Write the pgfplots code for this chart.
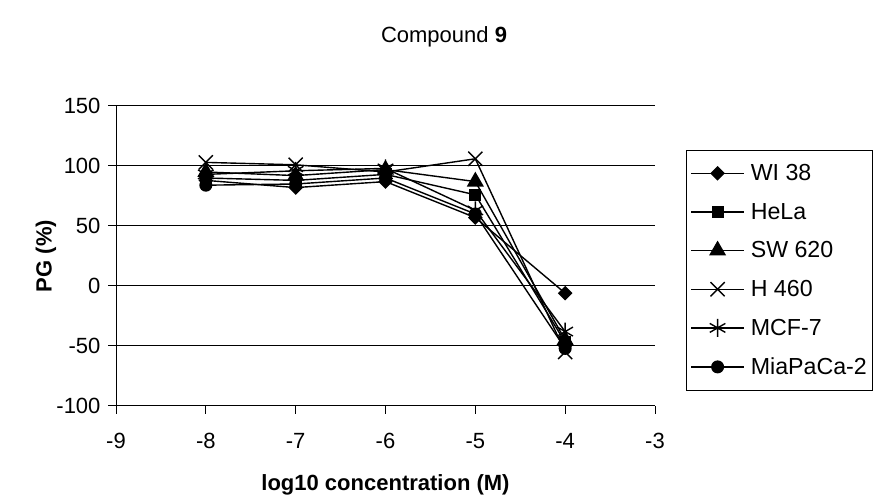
\documentclass[border=0pt]{standalone}
\usepackage{fontspec}
\setmainfont{Liberation Sans}
\usepackage{pgfplots}
\pgfplotsset{compat=1.18}
\begin{document}
\begin{tikzpicture}[x=1pt,y=1pt]
\path (0,0) rectangle (879,502);
\begin{axis}[
    at={(116pt,96pt)}, anchor=south west,
    scale only axis,
    width=539pt, height=300pt,
    xmin=-9, xmax=-3, ymin=-100, ymax=150,
    xtick={-9,-8,-7,-6,-5,-4,-3},
    xticklabels={-9,-8,-7,-6,-5,-4,-3},
    ytick={-100,-50,0,50,100,150},
    yticklabels={-100,-50,0,50,100,150},
    axis x line*=bottom, axis y line*=left,
    axis line style={-, line width=1pt},
    tick align=outside, major tick length=8pt,
    tick style={black, line width=1pt},
    ymajorgrids, grid style={black, line width=1pt},
    ticklabel style={font=\fontsize{22}{24}\selectfont},
    xticklabel style={yshift=-16pt},
    yticklabel style={xshift=-4pt},
    every axis plot/.append style={black, line width=1.4pt},
    legend style={at={(1.0575,0.853)}, anchor=north west, draw=black, line width=0.8pt,
        font=\fontsize{23.2}{25}\selectfont, row sep=17pt, inner xsep=4pt, inner ysep=12pt,
        cells={anchor=west}},
    legend image code/.code={\draw[mark repeat=2,mark phase=2,#1] plot coordinates {(0pt,0pt)(26.5pt,0pt)(53pt,0pt)};
        \path (57pt,0pt);},
]
\addplot[mark=diamond*, mark size=6.3pt, mark options={xscale=1.333, solid}] coordinates {
    (-8,88) (-7,82) (-6,87) (-5,57) (-4,-6)};
\addlegendentry{WI 38}
\addplot[mark=square*, mark size=5.3pt, mark options={solid}] coordinates {
    (-8,90) (-7,88) (-6,93) (-5,76) (-4,-47)};
\addlegendentry{HeLa}
\addplot[mark=triangle*, mark size=8.5pt, mark options={solid}] coordinates {
    (-8,95) (-7,92) (-6,97) (-5,87) (-4,-45)};
\addlegendentry{SW 620}
\addplot[mark=x, mark size=10pt, mark options={solid}] coordinates {
    (-8,103) (-7,101) (-6,95) (-5,106) (-4,-55)};
\addlegendentry{H 460}
\addplot[mark=asterisk, mark size=9pt, mark options={solid}] coordinates {
    (-8,93) (-7,96) (-6,98) (-5,63) (-4,-38)};
\addlegendentry{MCF-7}
\addplot[mark=*, mark size=5.8pt, mark options={solid}] coordinates {
    (-8,84) (-7,85) (-6,90) (-5,60) (-4,-52)};
\addlegendentry{MiaPaCa-2}
\end{axis}
\node[font=\fontsize{22}{26}\selectfont] at (444,465) {Compound \textbf{9}};
\node[font=\fontsize{22}{24}\selectfont\bfseries, anchor=base] at (385.5,11) {log10 concentration (M)};
\node[font=\fontsize{22}{24}\selectfont\bfseries, rotate=90] at (46,246) {PG (\%)};
\end{tikzpicture}
\end{document}
